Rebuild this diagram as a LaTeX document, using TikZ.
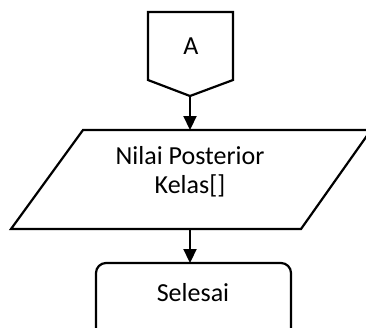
\documentclass[tikz,border=0pt]{standalone}
\usepackage{fontspec}
\setmainfont{Carlito}
\usetikzlibrary{arrows.meta}
\tikzset{
  shapeline/.style={line width=2.2pt, line join=miter},
  conn/.style={line width=2.2pt, -{Triangle[length=14pt,width=13pt]}},
  lbl/.style={font=\fontsize{26}{29}\selectfont, align=center, inner sep=0pt}
}
\begin{document}
\begin{tikzpicture}[x=1pt,y=-1pt]
\useasboundingbox (0,0) rectangle (366,327);
\clip (0,0) rectangle (366,327);
% off-page connector A
\draw[shapeline] (148,12) -- (233,12) -- (233,80) -- (190,96) -- (148,80) -- cycle;
\coordinate (Atip) at (190,96);
\node[lbl] (A) at (191,46) {A};
% parallelogram
\draw[shapeline] (83,130) -- (371,130) -- (301,229) -- (11,229) -- cycle;
\coordinate (Ptop) at (190,130);
\coordinate (Pbot) at (190,229);
\node[lbl] (P) at (190,172) {Nilai Posterior\\Kelas[]};
% terminator
\draw[shapeline, rounded corners=10pt] (96,263) rectangle (291,340);
\coordinate (Stop) at (190,263);
\node[lbl] (S) at (193,293) {Selesai};
% connectors
\draw[conn] (Atip) -- (Ptop);
\draw[conn] (Pbot) -- (Stop);
\end{tikzpicture}
\end{document}
